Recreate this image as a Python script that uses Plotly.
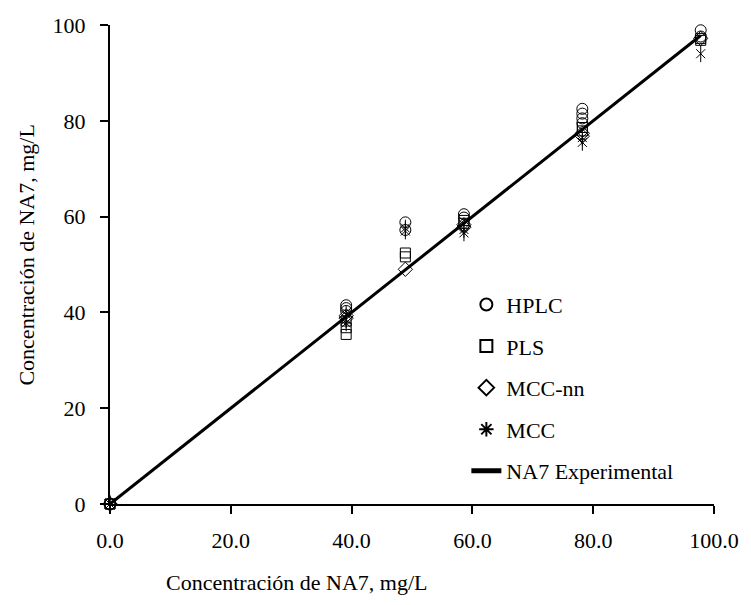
import plotly.graph_objects as go

# ---- data ----
line_x = [0, 39.1, 48.9, 58.6, 78.2, 97.8]
line_y = [0, 39.1, 48.9, 58.6, 78.2, 97.8]

hplc_x = [0, 0, 39.1, 39.1, 39.1, 48.9, 48.9, 58.6, 58.6, 78.2, 78.2, 78.2, 78.2, 97.8, 97.8]
hplc_y = [0, 0, 41.5, 40.9, 40.3, 58.8, 57.2, 60.5, 59.8, 82.5, 81.5, 80.5, 79.5, 98.9, 97.6]

pls_x = [0, 0, 39.1, 39.1, 39.1, 48.9, 48.9, 58.6, 58.6, 78.2, 78.2, 97.8, 97.8]
pls_y = [0, 0, 38.2, 36.8, 35.4, 52.4, 51.6, 59.2, 58.6, 78.6, 77.9, 97.2, 96.8]

mccnn_x = [0, 0, 39.1, 39.1, 48.9, 58.6, 58.6, 78.2, 78.2, 97.8]
mccnn_y = [0, 0, 39.3, 38.8, 49.0, 58.3, 57.8, 77.4, 76.8, 97.2]

mcc_x = [0, 0, 39.1, 39.1, 39.1, 48.9, 48.9, 58.6, 58.6, 78.2, 78.2, 97.8]
mcc_y = [0, 0, 39.6, 38.5, 37.8, 57.6, 57.0, 57.3, 56.6, 76.5, 75.5, 94.0]

x_ticks = [0, 20, 40, 60, 80, 100]
x_tick_text = ["0.0", "20.0", "40.0", "60.0", "80.0", "100.0"]
y_ticks = [0, 20, 40, 60, 80, 100]

x_title = "Concentración de NA7, mg/L"
y_title = "Concentración de NA7, mg/L"

FONT = "Liberation Serif"
FS = 22

fig = go.Figure()
mk = dict(size=11, color="black", line=dict(color="black", width=1))
fig.add_trace(go.Scatter(x=line_x, y=line_y, mode="lines", name="NA7 Experimental",
                         line=dict(color="black", width=3), showlegend=False))
fig.add_trace(go.Scatter(x=hplc_x, y=hplc_y, mode="markers", name="HPLC", legendgroup="a",
                         marker=dict(symbol="circle-open", **mk)))
fig.add_trace(go.Scatter(x=pls_x, y=pls_y, mode="markers", name="PLS", legendgroup="b",
                         marker=dict(symbol="square-open", size=10, color="black",
                                     line=dict(color="black", width=1))))
fig.add_trace(go.Scatter(x=mccnn_x, y=mccnn_y, mode="markers", name="MCC-nn", legendgroup="c",
                         marker=dict(symbol="diamond-open", **mk)))
# MCC six-armed asterisk = x-thin + vertical line
fig.add_trace(go.Scatter(x=mcc_x, y=mcc_y, mode="markers", name="MCC", legendgroup="d",
                         showlegend=False,
                         marker=dict(symbol="x-thin-open", size=9, color="black",
                                     line=dict(color="black", width=1))))
fig.add_trace(go.Scatter(x=mcc_x, y=mcc_y, mode="markers", name="MCC", legendgroup="d",
                         showlegend=False,
                         marker=dict(symbol="line-ns-open", size=12, color="black",
                                     line=dict(color="black", width=1))))
fig.add_trace(go.Scatter(x=[None], y=[None], mode="markers", name="MCC", legendgroup="d",
                         marker=dict(symbol="asterisk-open", size=10, color="black",
                                     line=dict(color="black", width=1))))
fig.add_trace(go.Scatter(x=[None], y=[None], mode="lines", name="NA7 Experimental",
                         legendgroup="e", line=dict(color="black", width=3)))

fig.update_layout(
    width=751, height=605,
    margin=dict(l=110, r=31, t=25, b=101),
    paper_bgcolor="white", plot_bgcolor="white",
    font=dict(family=FONT, size=FS, color="black"),
    showlegend=True,
    legend=dict(x=0.59, y=0.46, xanchor="left", yanchor="top",
                bgcolor="rgba(0,0,0,0)", font=dict(size=FS, family=FONT),
                tracegroupgap=10, itemsizing="constant"),
    xaxis=dict(range=[0, 100], tickvals=x_ticks, ticktext=x_tick_text,
               showgrid=False, zeroline=False, showline=True, linecolor="black", linewidth=2,
               ticks="outside", ticklen=8, tickwidth=2, tickcolor="black",
               ticklabelstandoff=8),
    yaxis=dict(range=[0, 100], tickvals=y_ticks,
               showgrid=False, zeroline=False, showline=True, linecolor="black", linewidth=2,
               ticks="outside", ticklen=8, tickwidth=2, tickcolor="black",
               ticklabelstandoff=10),
    annotations=[
        dict(text=x_title, xref="paper", yref="paper", x=0.31, y=-0.163,
             xanchor="center", yanchor="middle", showarrow=False, font=dict(size=FS)),
        dict(text=y_title, xref="paper", yref="paper", x=-0.138, y=0.52,
             xanchor="center", yanchor="middle", showarrow=False, textangle=-90,
             font=dict(size=FS)),
    ],
)
fig.update_traces(cliponaxis=False)

fig.write_html("out.html", config={"displayModeBar": False},
               post_script="document.body.style.margin='0';document.body.style.overflow='hidden';")
